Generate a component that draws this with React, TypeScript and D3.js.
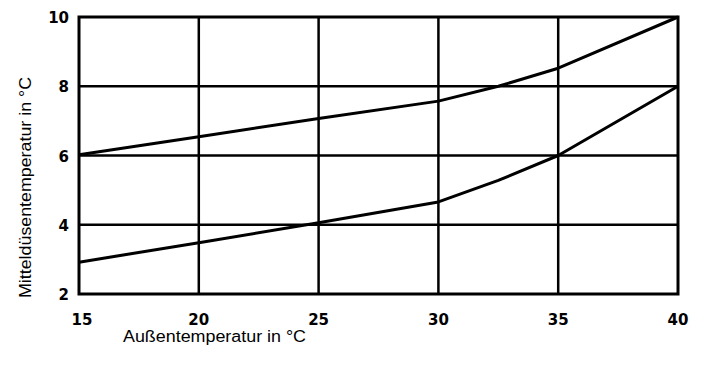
import React from "react";
import * as d3 from "d3";

const xTicks = [15, 20, 25, 30, 35, 40];
const yTicks = [2, 4, 6, 8, 10];
const upperX = [15, 20, 25, 30, 32.5, 35, 40];
const upperY = [6.02, 6.54, 7.07, 7.57, 8.0, 8.52, 10.0];
const lowerX = [15, 20, 25, 30, 32.5, 35, 40];
const lowerY = [2.92, 3.48, 4.06, 4.66, 5.28, 6.0, 8.0];
const xTitle = "Außentemperatur in °C";
const yTitle = "Mitteldüsentemperatur in °C";

export default function App() {
  const W = 704, H = 368;
  const left = 79, right = 678, top = 17, bottom = 294;
  const x = d3.scaleLinear().domain([15, 40]).range([left, right]);
  const y = d3.scaleLinear().domain([2, 10]).range([bottom, top]);
  const line = d3
    .line<[number, number]>()
    .x((d) => x(d[0]))
    .y((d) => y(d[1]))
    .curve(d3.curveLinear);
  const up = upperX.map((v, i) => [v, upperY[i]] as [number, number]);
  const lo = lowerX.map((v, i) => [v, lowerY[i]] as [number, number]);
  const bold = "'DejaVu Sans', 'Liberation Sans', Arial, sans-serif";
  const narrow = "'Liberation Sans Narrow', 'Liberation Sans', Arial, sans-serif";
  return (
    <svg width={W} height={H} style={{ position: "absolute", left: 0, top: 0, background: "#fff" }}>
      <rect x={0} y={0} width={W} height={H} fill="#fff" />
      {xTicks.slice(1, -1).map((t) => (
        <line key={"gx" + t} x1={x(t)} x2={x(t)} y1={top} y2={bottom} stroke="#000" strokeWidth={2.5} />
      ))}
      {yTicks.slice(1, -1).map((t) => (
        <line key={"gy" + t} x1={left} x2={right} y1={y(t)} y2={y(t)} stroke="#000" strokeWidth={2.5} />
      ))}
      <rect x={left} y={top} width={right - left} height={bottom - top} fill="none" stroke="#000" strokeWidth={3} />
      <path d={line(up) || ""} fill="none" stroke="#000" strokeWidth={3} strokeLinejoin="round" />
      <path d={line(lo) || ""} fill="none" stroke="#000" strokeWidth={3} strokeLinejoin="round" />
      {yTicks.map((t) => (
        <text key={"ty" + t} x={69} y={y(t) + 6} textAnchor="end" fontFamily={bold} fontWeight="bold" fontSize={15}>
          {t}
        </text>
      ))}
      {xTicks.map((t) => (
        <text key={"tx" + t} x={x(t) + (t === 15 ? 3 : 0)} y={325} textAnchor="middle" fontFamily={bold} fontWeight="bold" fontSize={15}>
          {t}
        </text>
      ))}
      <text x={123} y={342} fontFamily={narrow} fontSize={16} textLength={183} lengthAdjust="spacingAndGlyphs">
        {xTitle}
      </text>
      <text
        transform={`translate(31,298) rotate(-90)`}
        fontFamily={narrow}
        fontSize={16}
        textLength={221}
        lengthAdjust="spacingAndGlyphs"
      >
        {yTitle}
      </text>
    </svg>
  );
}
